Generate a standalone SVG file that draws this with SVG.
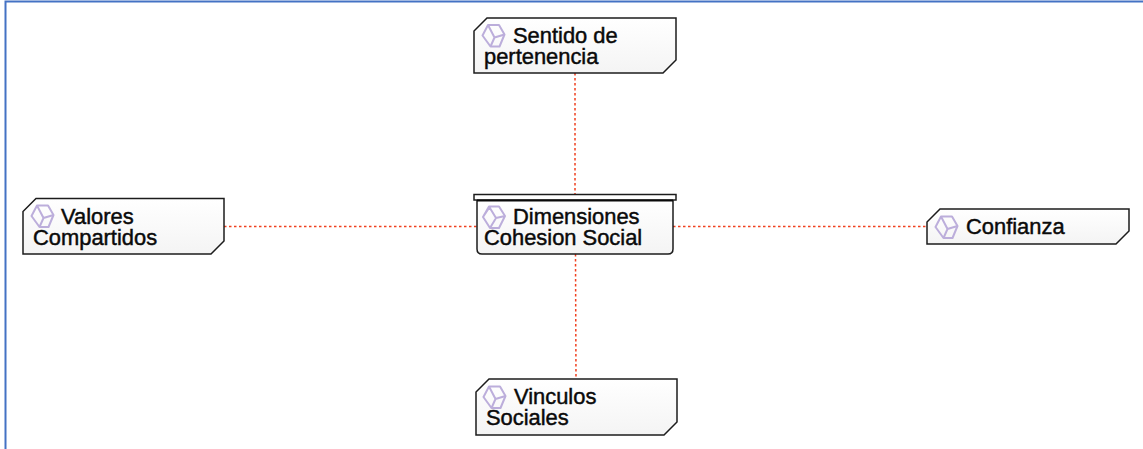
<svg xmlns="http://www.w3.org/2000/svg" width="1143" height="449" viewBox="0 0 1143 449">
<style>
.frame{fill:none;stroke:#4472c4;stroke-width:2}
.c{fill:none;stroke:#f0401f;stroke-width:1.5;stroke-dasharray:2.5 2.5}
.n{fill:url(#g);stroke:#1c1c1c;stroke-width:1.5}
.i{fill:none;stroke:#bcaedb;stroke-width:2;stroke-linejoin:round}
.t{font-family:"Liberation Sans",Arial,sans-serif;font-size:21.9px;fill:#0a0a0a;stroke:#0a0a0a;stroke-width:.45}
</style>
<defs>
<linearGradient id="g" x1="0" y1="0" x2="0" y2="1"><stop offset="0" stop-color="#ffffff"/><stop offset="1" stop-color="#f4f4f4"/></linearGradient>
<g id="ic">
<path class="i" d="M-5.500 -10.500 L5.500 -10.500 L11 -1 L6 11 L-3 11 L-11 0 Z"/>
<path class="i" d="M-5.500 -10.500 L1 2 L11 -1 M1 2 L-3 11"/>
</g>
</defs>
<rect width="1143" height="449" fill="#fff"/>
<path class="frame" d="M5.500 449 V1.500 H1143"/>
<g id="connectors">
<path class="c" d="M575 73 V194"/>
<path class="c" d="M575.500 254 L576 379"/>
<path class="c" d="M224 226.500 H477"/>
<path class="c" d="M673 226.500 H927"/>
</g>
<g id="node-sentido">
<path class="n" d="M487 18 H676 V60 L663 73 H474 V31 Z"/>
<use href="#ic" x="493.500" y="35.500"/>
<text class="t" x="513" y="43">Sentido de</text>
<text class="t" x="484" y="64">pertenencia</text>
</g>
<g id="node-dimensiones">
<path class="n" d="M477 200 H673 V249 Q673 254 668 254 H482 Q477 254 477 249 Z"/>
<rect x="474" y="194.500" width="202" height="5.500" fill="#fff" stroke="#1c1c1c" stroke-width="1.500"/>
<path d="M477 200.500 H673" stroke="#0a0a0a" stroke-width="2" fill="none"/>
<path class="i" d="M489 206.500 H499 L505 216 L499 228 H490 L483 217 Z M489 206.500 L496 218 L505 216 M496 218 L490 228 M483 217 L489 208"/>
<text class="t" x="513" y="224">Dimensiones</text>
<text class="t" x="484" y="245">Cohesion Social</text>
</g>
<g id="node-valores">
<path class="n" d="M36 198.500 H224 V241 L211 254 H23 V211.500 Z"/>
<use href="#ic" x="42.500" y="216"/>
<text class="t" x="61" y="224">Valores</text>
<text class="t" x="33" y="245">Compartidos</text>
</g>
<g id="node-confianza">
<path class="n" d="M940 209 H1129 V231 L1116 244 H927 V222 Z"/>
<use href="#ic" x="946.500" y="227"/>
<text class="t" x="966" y="234">Confianza</text>
</g>
<g id="node-vinculos">
<path class="n" d="M489 379 H677 V422 L664 435 H476 V392 Z"/>
<use href="#ic" x="494.500" y="397"/>
<text class="t" x="514" y="404">Vinculos</text>
<text class="t" x="486" y="425">Sociales</text>
</g>
</svg>
